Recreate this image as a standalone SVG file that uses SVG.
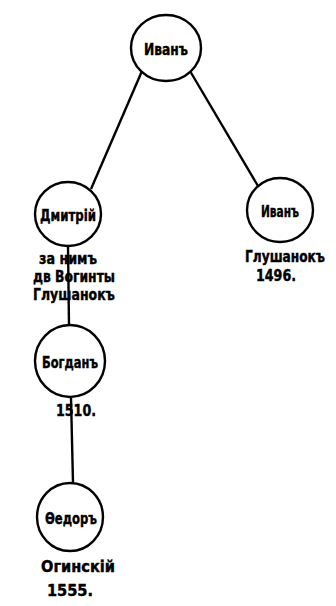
<svg xmlns="http://www.w3.org/2000/svg" width="336" height="606" viewBox="0 0 336 606">
<style>
.n{fill:#fff;stroke:#000;stroke-width:2.4}
.c line{stroke:#000;stroke-width:2.4}
text{font-family:"DejaVu Sans Condensed","DejaVu Sans",sans-serif;font-weight:bold;fill:#000;stroke:#000;stroke-width:0.4;text-anchor:middle;font-size:16px}
</style>
<rect width="336" height="606" fill="#fff"/>
<g class="c" id="connectors">
<line x1="142" y1="71" x2="91" y2="189"/>
<line x1="190" y1="71" x2="258" y2="186"/>
<line x1="68" y1="245" x2="69" y2="325"/>
<line x1="71" y1="398" x2="73" y2="483"/>
</g>
<g id="n-ivan">
<ellipse class="n" cx="166" cy="48" rx="35" ry="33"/>
<text x="166" y="55" textLength="44" lengthAdjust="spacingAndGlyphs">Иванъ</text>
</g>
<g id="n-dmitriy">
<ellipse class="n" cx="68" cy="214" rx="33" ry="32"/>
<text x="68" y="221" textLength="56" lengthAdjust="spacingAndGlyphs">Дмитрій</text>
<text x="68" y="264" textLength="58" lengthAdjust="spacingAndGlyphs">за нимъ</text>
<text x="74" y="282" textLength="82" lengthAdjust="spacingAndGlyphs">дв Вогинты</text>
<text x="74" y="300" textLength="82" lengthAdjust="spacingAndGlyphs">Глушанокъ</text>
</g>
<g id="n-ivan2">
<ellipse class="n" cx="280" cy="210" rx="33" ry="32"/>
<text x="280" y="217" textLength="38" lengthAdjust="spacingAndGlyphs">Иванъ</text>
<text x="285" y="262" style="font-size:15px" textLength="80" lengthAdjust="spacingAndGlyphs">Глушанокъ</text>
<text x="276" y="281" textLength="40" lengthAdjust="spacingAndGlyphs">1496.</text>
</g>
<g id="n-bogdan">
<ellipse class="n" cx="70" cy="361" rx="35" ry="36"/>
<text x="70" y="368" textLength="56" lengthAdjust="spacingAndGlyphs">Богданъ</text>
<text x="76" y="416" textLength="40" lengthAdjust="spacingAndGlyphs">1510.</text>
</g>
<g id="n-fedor">
<ellipse class="n" cx="70" cy="517" rx="33" ry="34"/>
<text x="71" y="524" textLength="52" lengthAdjust="spacingAndGlyphs">Ѳедоръ</text>
<text x="78" y="572" textLength="74" lengthAdjust="spacingAndGlyphs">Огинскій</text>
<text x="70" y="596" textLength="46" lengthAdjust="spacingAndGlyphs">1555.</text>
</g>
</svg>
